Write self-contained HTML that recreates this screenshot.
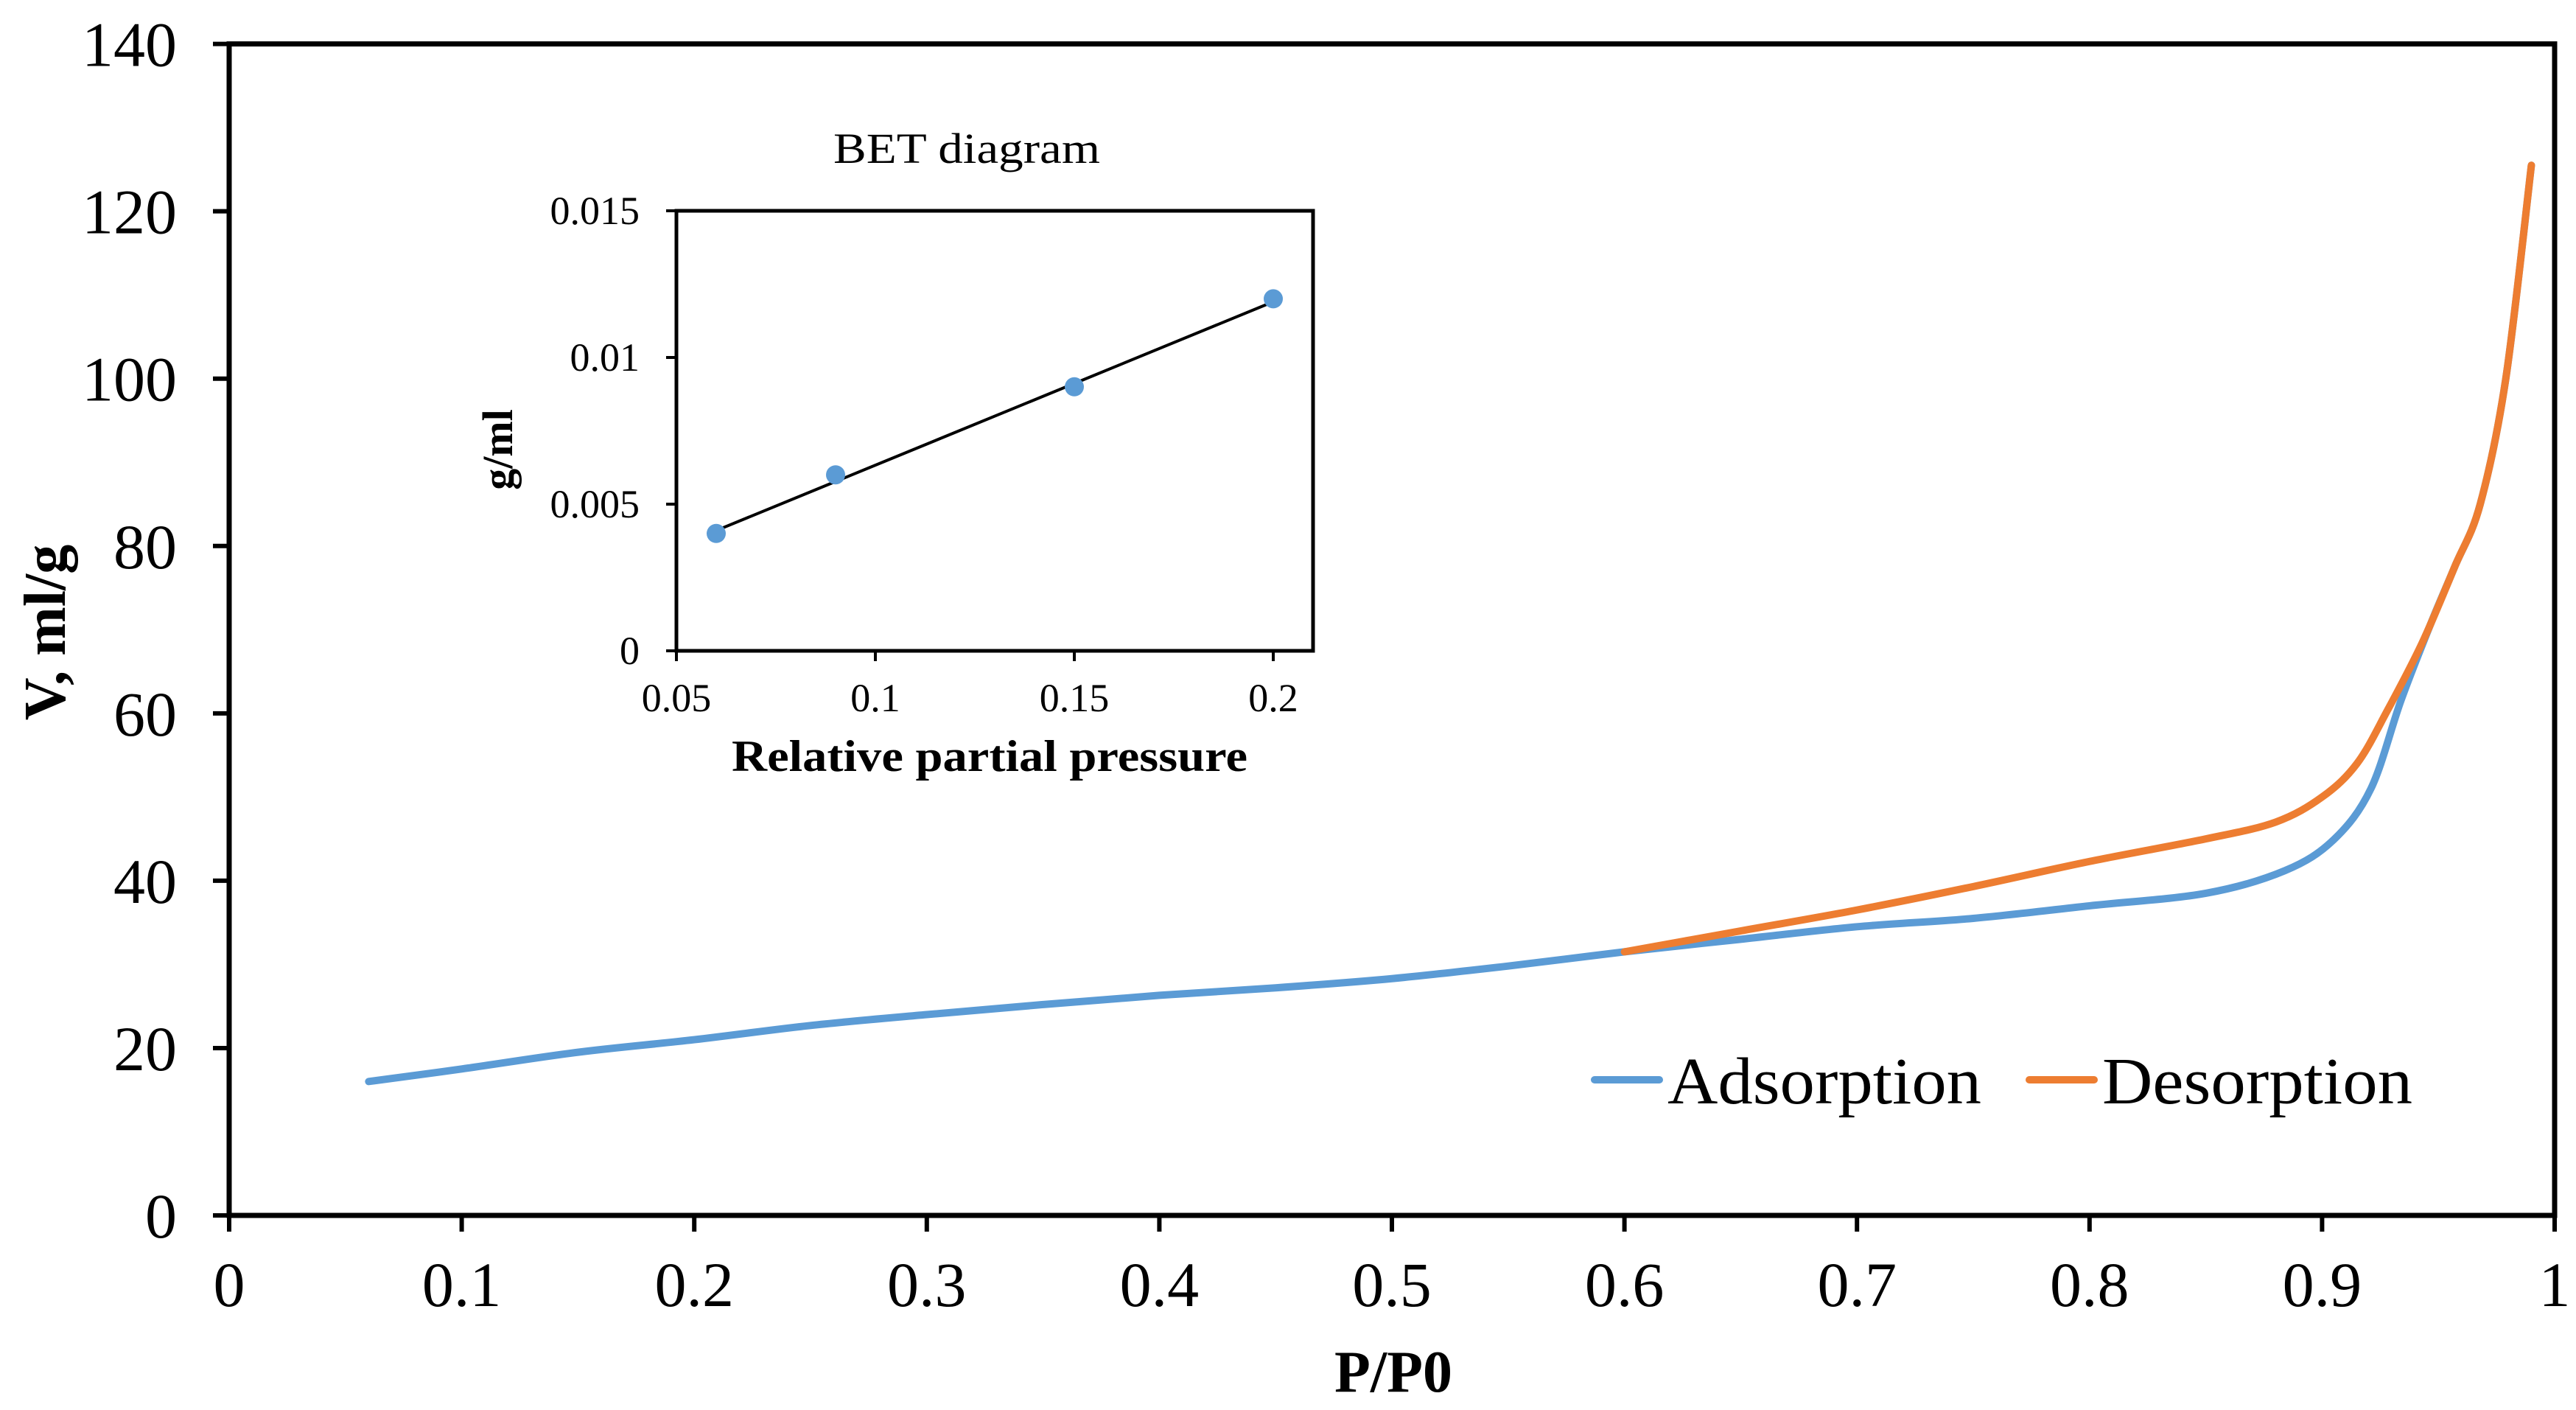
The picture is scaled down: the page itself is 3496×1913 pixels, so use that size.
<!DOCTYPE html>
<html><head><meta charset="utf-8"><style>
html,body{margin:0;padding:0;background:#fff;}
svg{display:block;}
text{font-family:"Liberation Serif",serif;fill:#000;}
</style></head><body>
<svg id="chart" width="3496" height="1913" viewBox="0 0 3496 1913" xmlns="http://www.w3.org/2000/svg">
<g id="main"></g>
<g id="inset"></g>
</svg>
<script>
const xTicks=[0,0.1,0.2,0.3,0.4,0.5,0.6,0.7,0.8,0.9,1];
const xTickLabels=["0","0.1","0.2","0.3","0.4","0.5","0.6","0.7","0.8","0.9","1"];
const yTicks=[0,20,40,60,80,100,120,140];
const adsX=[0.06,0.1,0.15,0.2,0.25,0.3,0.35,0.4,0.45,0.5,0.55,0.6,0.65,0.7,0.75,0.8,0.85,0.884,0.905,0.921,0.934,0.947,0.957,0.968,0.979,0.99];
const adsY=[16,17.5,19.5,21,22.7,24,25.2,26.3,27.2,28.3,29.8,31.5,33,34.5,35.5,37,38.5,41.2,44.9,51,61.6,70.9,77.5,85,100,125.5];
const desX=[0.6,0.65,0.7,0.75,0.8,0.85,0.88,0.9,0.915,0.928,0.943,0.957,0.968,0.979,0.99];
const desY=[31.5,34,36.5,39.3,42.3,45,47,50,54,60.3,68.4,77.5,85,100,125.5];
const betX=[0.06,0.09,0.15,0.2];
const betY=[0.004,0.006,0.009,0.012];
const betXTicks=[0.05,0.1,0.15,0.2];
const betXTickLabels=["0.05","0.1","0.15","0.2"];
const betYTicks=[0,0.005,0.01,0.015];
const betYTickLabels=["0","0.005","0.01","0.015"];
const fitStart=[0.06,0.0041];
const fitEnd=[0.2,0.0119];

const NS="http://www.w3.org/2000/svg";
function mk(parent,tag,attrs,txt){const e=document.createElementNS(NS,tag);for(const k in attrs)e.setAttribute(k,attrs[k]);if(txt!==undefined)e.textContent=txt;parent.appendChild(e);return e;}
function smooth(pts){let d="M"+pts[0][0]+","+pts[0][1];for(let i=0;i<pts.length-1;i++){const p0=pts[i-1]||pts[i],p1=pts[i],p2=pts[i+1],p3=pts[i+2]||p2;const t=6;d+=" C"+(p1[0]+(p2[0]-p0[0])/t)+","+(p1[1]+(p2[1]-p0[1])/t)+" "+(p2[0]-(p3[0]-p1[0])/t)+","+(p2[1]-(p3[1]-p1[1])/t)+" "+p2[0]+","+p2[1];}return d;}

const L=311,R=3467,T=59.6,B=1649;
const sx=v=>L+(R-L)*v/1;
const sy=v=>B-(B-T)*v/140;
const main=document.getElementById('main');
let e;
e=mk(main,'rect',{x:L,y:T,width:R-L,height:B-T,fill:'none',stroke:'#000','stroke-width':7});


xTicks.forEach((v,i)=>{
  const t=mk(main,'line',{x1:sx(v),x2:sx(v),y1:B,y2:B+22,stroke:'#000','stroke-width':6});
  
  
  const l=mk(main,'text',{x:sx(v),y:1772,'text-anchor':'middle','font-size':86},xTickLabels[i]);
  
  
});
yTicks.forEach(v=>{
  const t=mk(main,'line',{x1:L-22,x2:L,y1:sy(v),y2:sy(v),stroke:'#000','stroke-width':6});
  
  
  const l=mk(main,'text',{x:240,y:sy(v)+30,'text-anchor':'end','font-size':86},String(v));
  
  
});
e=mk(main,'text',{x:1891,y:1888,'text-anchor':'middle','font-size':80,'font-weight':'bold'},'P/P0');


e=mk(main,'text',{x:0,y:0,'text-anchor':'middle','font-size':80,'font-weight':'bold',transform:'translate(88,858) rotate(-90)'},'V, ml/g');


e=mk(main,'path',{d:smooth(adsX.map((v,i)=>[sx(v),sy(adsY[i])])),fill:'none',stroke:'#5B9BD5','stroke-width':10,'stroke-linecap':'round'});


e=mk(main,'path',{d:smooth(desX.map((v,i)=>[sx(v),sy(desY[i])])),fill:'none',stroke:'#ED7D31','stroke-width':10,'stroke-linecap':'round'});


const lg=mk(main,'g',{});


e=mk(lg,'line',{x1:2164,x2:2252,y1:1465,y2:1465,stroke:'#5B9BD5','stroke-width':10,'stroke-linecap':'round'});


e=mk(lg,'text',{x:2263,y:1497,'font-size':90,textLength:426,lengthAdjust:'spacingAndGlyphs'},'Adsorption');


e=mk(lg,'line',{x1:2754,x2:2842,y1:1465,y2:1465,stroke:'#ED7D31','stroke-width':10,'stroke-linecap':'round'});


e=mk(lg,'text',{x:2853,y:1497,'font-size':90,textLength:421,lengthAdjust:'spacingAndGlyphs'},'Desorption');



const iL=918,iR=1782,iT=286,iB=883;
const ix=v=>iL+(v-0.05)*(1458-1188)/0.05;
const iy=v=>iB-(iB-iT)*v/0.015;
const ins=document.getElementById('inset');
e=mk(ins,'rect',{x:iL,y:iT,width:iR-iL,height:iB-iT,fill:'#fff',stroke:'#000','stroke-width':5});


betXTicks.forEach((v,i)=>{
  const t=mk(ins,'line',{x1:ix(v),x2:ix(v),y1:iB,y2:iB+14,stroke:'#000','stroke-width':4});
  
  
  const l=mk(ins,'text',{x:ix(v),y:965,'text-anchor':'middle','font-size':54},betXTickLabels[i]);
  
  
});
betYTicks.forEach((v,i)=>{
  const t=mk(ins,'line',{x1:iL-14,x2:iL,y1:iy(v),y2:iy(v),stroke:'#000','stroke-width':4});
  
  
  const l=mk(ins,'text',{x:868,y:iy(v)+18,'text-anchor':'end','font-size':54},betYTickLabels[i]);
  
  
});
e=mk(ins,'line',{x1:ix(fitStart[0]),y1:iy(fitStart[1]),x2:ix(fitEnd[0]),y2:iy(fitEnd[1]),stroke:'#000','stroke-width':4});


betX.forEach((v,i)=>{
  const c=mk(ins,'circle',{cx:ix(v),cy:iy(betY[i]),r:13,fill:'#5B9BD5'});
  
  
});
e=mk(ins,'text',{x:1312,y:221,'text-anchor':'middle','font-size':58,textLength:362,lengthAdjust:'spacingAndGlyphs'},'BET diagram');


e=mk(ins,'text',{x:1343,y:1046,'text-anchor':'middle','font-size':60,'font-weight':'bold',textLength:700,lengthAdjust:'spacingAndGlyphs'},'Relative partial pressure');


e=mk(ins,'text',{x:0,y:0,'text-anchor':'middle','font-size':58,'font-weight':'bold',transform:'translate(695,610) rotate(-90)'},'g/ml');


</script>
</body></html>
